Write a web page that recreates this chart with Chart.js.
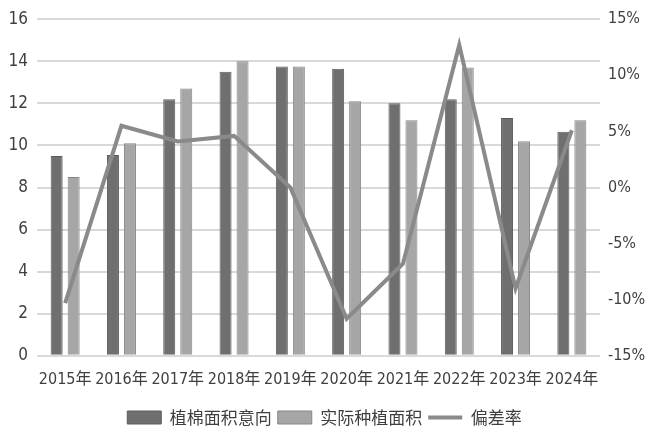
<!DOCTYPE html>
<html>
<head>
<meta charset="utf-8">
<script src="https://cdn.jsdelivr.net/npm/chart.js@4"></script>
<style>
  html, body { margin: 0; padding: 0; background: #fff; }
  #wrap { width: 649px; height: 438px; }
</style>
</head>
<body>
<div id="wrap"><canvas id="chCotton"></canvas></div>
<script>
// 植棉面积意向 vs 实际种植面积 + 偏差率
const years = ['2015年', '2016年', '2017年', '2018年', '2019年', '2020年', '2021年', '2022年', '2023年', '2024年'];
const intentArea = [9.5, 9.55, 12.2, 13.5, 13.75, 13.65, 12.0, 12.2, 11.3, 10.65];
const actualArea = [8.5, 10.1, 12.7, 14.0, 13.75, 12.1, 11.2, 13.7, 10.2, 11.2];
const deviation = [-10.3, 5.5, 4.1, 4.6, 0.0, -11.7, -6.8, 12.7, -9.0, 5.1];

const leftTicks = [0, 2, 4, 6, 8, 10, 12, 14, 16];
const rightTicks = [-15, -10, -5, 0, 5, 10, 15];

const numFont = "'DejaVu Sans Condensed', 'Liberation Sans Narrow', 'Noto Sans CJK SC', sans-serif";
const txtColor = '#3f3f3f';

const ctx = document.getElementById('chCotton').getContext('2d');
new Chart(ctx, {
    data: {
        labels: years,
        datasets: [
            {
                type: 'bar',
                label: '植棉面积意向',
                data: intentArea,
                yAxisID: 'y',
                backgroundColor: '#6f6f6f',
                borderColor: '#5c5c5c',
                borderWidth: 1,
                pointStyle: 'rect',
                categoryPercentage: 0.604,
                barPercentage: 0.706
            },
            {
                type: 'bar',
                label: '实际种植面积',
                data: actualArea,
                yAxisID: 'y',
                backgroundColor: '#a6a6a6',
                borderColor: '#868686',
                borderWidth: 1,
                pointStyle: 'rect',
                categoryPercentage: 0.604,
                barPercentage: 0.706
            },
            {
                type: 'line',
                label: '偏差率',
                data: deviation,
                yAxisID: 'y1',
                borderColor: '#8a8a8a',
                backgroundColor: '#8a8a8a',
                borderWidth: 4,
                pointRadius: 0,
                pointStyle: 'line',
                tension: 0,
                order: -1
            }
        ]
    },
    options: {
        responsive: true,
        maintainAspectRatio: false,
        animation: false,
        layout: { padding: { top: 3, bottom: 2 } },
        scales: {
            x: {
                grid: { display: false, drawTicks: false },
                border: { display: false },
                ticks: { color: txtColor, font: { family: numFont, size: 16 }, padding: 14, maxRotation: 0 }
            },
            y: {
                position: 'left',
                min: 0, max: 16,
                afterBuildTicks: s => { s.ticks = leftTicks.map(v => ({ value: v })); },
                afterFit: s => { s.width = 37; },
                grid: { color: '#d9d9d9', lineWidth: 2, drawTicks: false },
                border: { display: false },
                ticks: { color: txtColor, font: { family: numFont, size: 17 }, padding: 9 }
            },
            y1: {
                position: 'right',
                min: -15, max: 15,
                afterBuildTicks: s => { s.ticks = rightTicks.map(v => ({ value: v })); },
                afterFit: s => { s.width = 49; },
                grid: { display: false, drawTicks: false },
                border: { display: false },
                ticks: {
                    color: txtColor, font: { family: numFont, size: 16 }, padding: 8,
                    callback: v => v + '%'
                }
            }
        },
        plugins: {
            legend: {
                position: 'bottom',
                labels: {
                    color: txtColor,
                    font: { family: "'Noto Sans CJK SC', sans-serif", size: 17 },
                    usePointStyle: true,
                    pointStyleWidth: 34,
                    boxHeight: 13,
                    padding: 6,
                    sort: (a, b) => a.datasetIndex - b.datasetIndex
                }
            },
            tooltip: { enabled: false }
        }
    }
});
</script>
</body>
</html>
